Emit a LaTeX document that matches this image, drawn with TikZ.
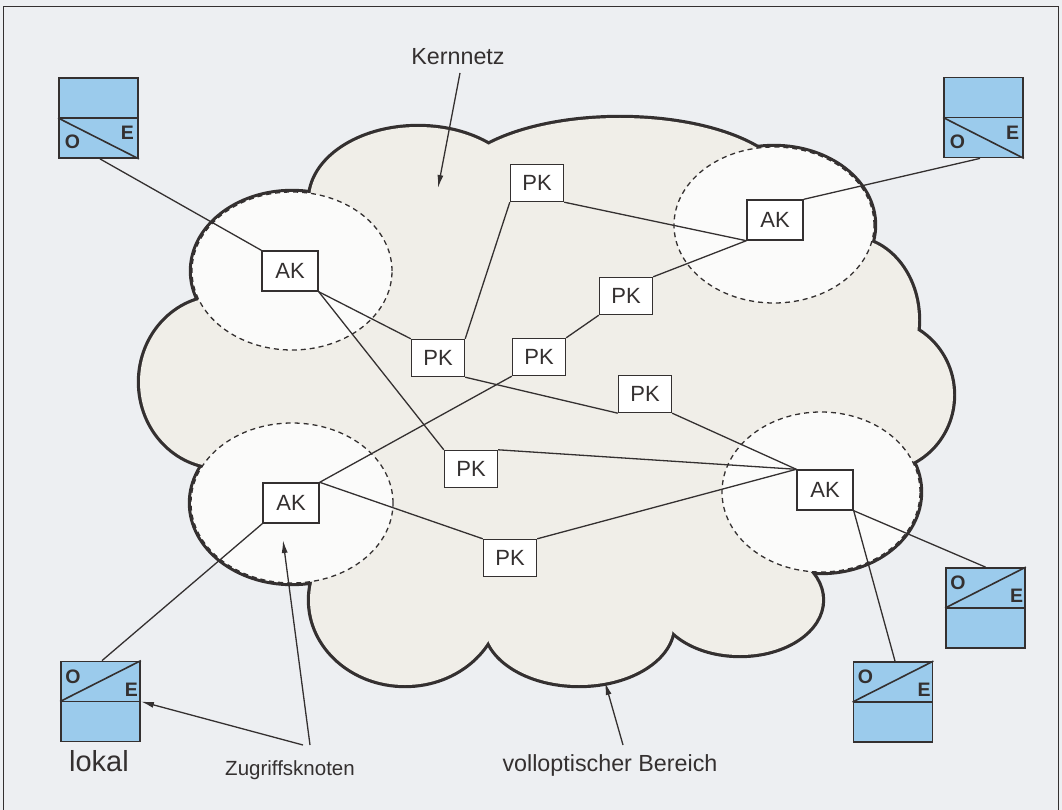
\documentclass[tikz,border=0pt]{standalone}
\usepackage{fontspec}
\setmainfont{Liberation Sans}
\usetikzlibrary{arrows.meta}
\definecolor{bgc}{RGB}{237,239,242}
\definecolor{cloudc}{RGB}{240,238,232}
\definecolor{zonec}{RGB}{251,251,250}
\definecolor{inkc}{RGB}{52,48,48}
\definecolor{oec}{RGB}{155,203,236}
\tikzset{
  box/.style={draw=inkc, line width=1.4pt, fill=white, inner sep=0pt, minimum width=56pt, minimum height=40pt, font=\fontsize{22}{24}\selectfont, text=inkc},
  pkbox/.style={box, minimum width=53pt, minimum height=37pt},
  oebox/.style={draw=inkc, line width=1.8pt, fill=oec, inner sep=0pt, minimum width=79pt, minimum height=80pt},
  oeline/.style={draw=inkc, line width=1.6pt},
  oelet/.style={font=\bfseries\fontsize{19.5}{20}\selectfont, text=inkc, inner sep=0pt},
  conn/.style={draw=inkc, line width=1.3pt},
  lbl/.style={font=\fontsize{23.3}{25}\selectfont, text=inkc, inner sep=0pt},
  pointer/.style={draw=inkc, line width=1.3pt, -{Latex[length=13pt,width=6pt]}},
  zone/.style={fill=zonec, draw=inkc, line width=1.3pt, dash pattern=on 5pt off 4pt},
}
\newcommand\cloudparts[1]{%
  \path[#1] (418,200) ellipse [x radius=108pt, y radius=73pt];
  \path[#1] (620,190) ellipse [x radius=169pt, y radius=72pt];
  \path[#1] (850,320) ellipse [x radius=68pt, y radius=82pt];
  \path[#1] (880,395) ellipse [x radius=73pt, y radius=75pt];
  \path[#1] (740,600) ellipse [x radius=82pt, y radius=55pt];
  \path[#1] (579,625) ellipse [x radius=94pt, y radius=60pt];
  \path[#1] (405,600) ellipse [x radius=95pt, y radius=85pt];
  \path[#1] (220,382) ellipse [x radius=80pt, y radius=85pt];
  \path[#1] (292,271) ellipse [x radius=100pt, y radius=79pt];
  \path[#1] (774,225) ellipse [x radius=100pt, y radius=78pt];
  \path[#1] (292,503) ellipse [x radius=101pt, y radius=80pt];
  \path[#1] (821,492) ellipse [x radius=99pt, y radius=80pt];
}
\begin{document}
\begin{tikzpicture}[x=1pt,y=-1pt]
\useasboundingbox (0,0) rectangle (1062,810);
\fill[bgc] (0,0) rectangle (1062,810);
\draw[inkc, line width=1.2pt] (3.5,812) -- (3.5,6.5) -- (1058.5,6.5) -- (1058.5,812);
% cloud
\cloudparts{draw=inkc, line width=6.4pt}
\cloudparts{fill=cloudc}
\fill[cloudc] (292,271) -- (418,200) -- (620,190) -- (774,225) -- (850,320) -- (880,395) -- (821,492) -- (740,600) -- (579,625) -- (405,600) -- (292,503) -- (220,382) -- cycle;
% access zones
\path[zone] (292,271) ellipse [x radius=100pt, y radius=79pt];
\path[zone] (774,225) ellipse [x radius=100pt, y radius=78pt];
\path[zone] (292,503) ellipse [x radius=101pt, y radius=80pt];
\path[zone] (821,492) ellipse [x radius=99pt, y radius=80pt];
% nodes
\node[box] (ak1) at (290,271) {AK};
\node[box] (ak2) at (775,220) {AK};
\node[box] (ak3) at (291,503) {AK};
\node[box] (ak4) at (825,490) {AK};
\node[pkbox] (pk1) at (537,183) {PK};
\node[pkbox] (pk2) at (626,296) {PK};
\node[pkbox] (pk3) at (438,358) {PK};
\node[pkbox] (pk4) at (539,357) {PK};
\node[pkbox] (pk5) at (645,394) {PK};
\node[pkbox] (pk6) at (471,469) {PK};
\node[pkbox] (pk7) at (510,558) {PK};
% O/E boxes
\node[oebox] (oetl) at (98.5,118) {};
\node[oebox] (oetr) at (983.5,117.5) {};
\node[oebox] (oebl) at (100.5,701.5) {};
\node[oebox] (oebr) at (985.5,608) {};
\node[oebox] (oebb) at (893,702) {};
\foreach \b in {oetl,oetr}{
  \draw[oeline] (\b.west) -- (\b.east);
  \draw[oeline] (\b.west) -- (\b.south east);
  \node[oelet] (\b o) at ([shift={(-26,24)}]\b.center) {O};
  \node[oelet] (\b e) at ([shift={(29,15)}]\b.center) {E};
}
\foreach \b in {oebl,oebr,oebb}{
  \draw[oeline] (\b.west) -- (\b.east);
  \draw[oeline] (\b.west) -- (\b.north east);
  \node[oelet] (\b o) at ([shift={(-27.5,-25)}]\b.center) {O};
  \node[oelet] (\b e) at ([shift={(31,-12)}]\b.center) {E};
}
% connectors
\draw[conn] ([xshift=1.5pt]oetl.south) -- (ak1.north west);
\draw[conn] ([xshift=-3.5pt]oetr.south) -- (ak2.north east);
\draw[conn] ([xshift=1.5pt]oebl.north) -- (ak3.south west);
\draw[conn] (oebr.north) -- (ak4.south east);
\draw[conn] ([xshift=2pt]oebb.north) -- (ak4.south east);
\draw[conn] (ak1.south east) -- (pk3.north west);
\draw[conn] (ak1.south east) -- (pk6.north west);
\draw[conn] (pk3.north east) -- (pk1.south west);
\draw[conn] (pk1.south east) -- (ak2.south west);
\draw[conn] (pk2.north east) -- (ak2.south west);
\draw[conn] (pk4.north east) -- (pk2.south west);
\draw[conn] (ak3.north east) -- (pk4.south west);
\draw[conn] (pk3.south east) -- (pk5.south west);
\draw[conn] (pk5.south east) -- (ak4.north west);
\draw[conn] (pk6.north east) -- (ak4.north west);
\draw[conn] (ak3.north east) -- (pk7.north west);
\draw[conn] (pk7.north east) -- (ak4.north west);
% labels
\node[lbl, anchor=base] (kern) at (458,65) {Kernnetz};
\coordinate (kernS) at (460,73);
\coordinate (kernT) at (438,188);
\draw[pointer] (kernS) -- (kernT);
\node[lbl, anchor=base] (voll) at (610,771) {volloptischer Bereich};
\coordinate (vollS) at (623,745);
\coordinate (vollT) at (605,682);
\draw[pointer] (vollS) -- (vollT);
\node[lbl, font=\fontsize{20.5}{22}\selectfont, anchor=base] (zug) at (290,775) {Zugriffsknoten};
\coordinate (zugA) at (310,745);
\coordinate (zugB) at (303,745);
\coordinate (zugT) at (283,540);
\draw[pointer] (zugA) -- (zugT);
\draw[pointer] (zugB) -- (oebl.east);
\node[font=\fontsize{29}{31}\selectfont, text=inkc, inner sep=0pt, anchor=base] (lokal) at (99,771) {lokal};
\end{tikzpicture}
\end{document}
